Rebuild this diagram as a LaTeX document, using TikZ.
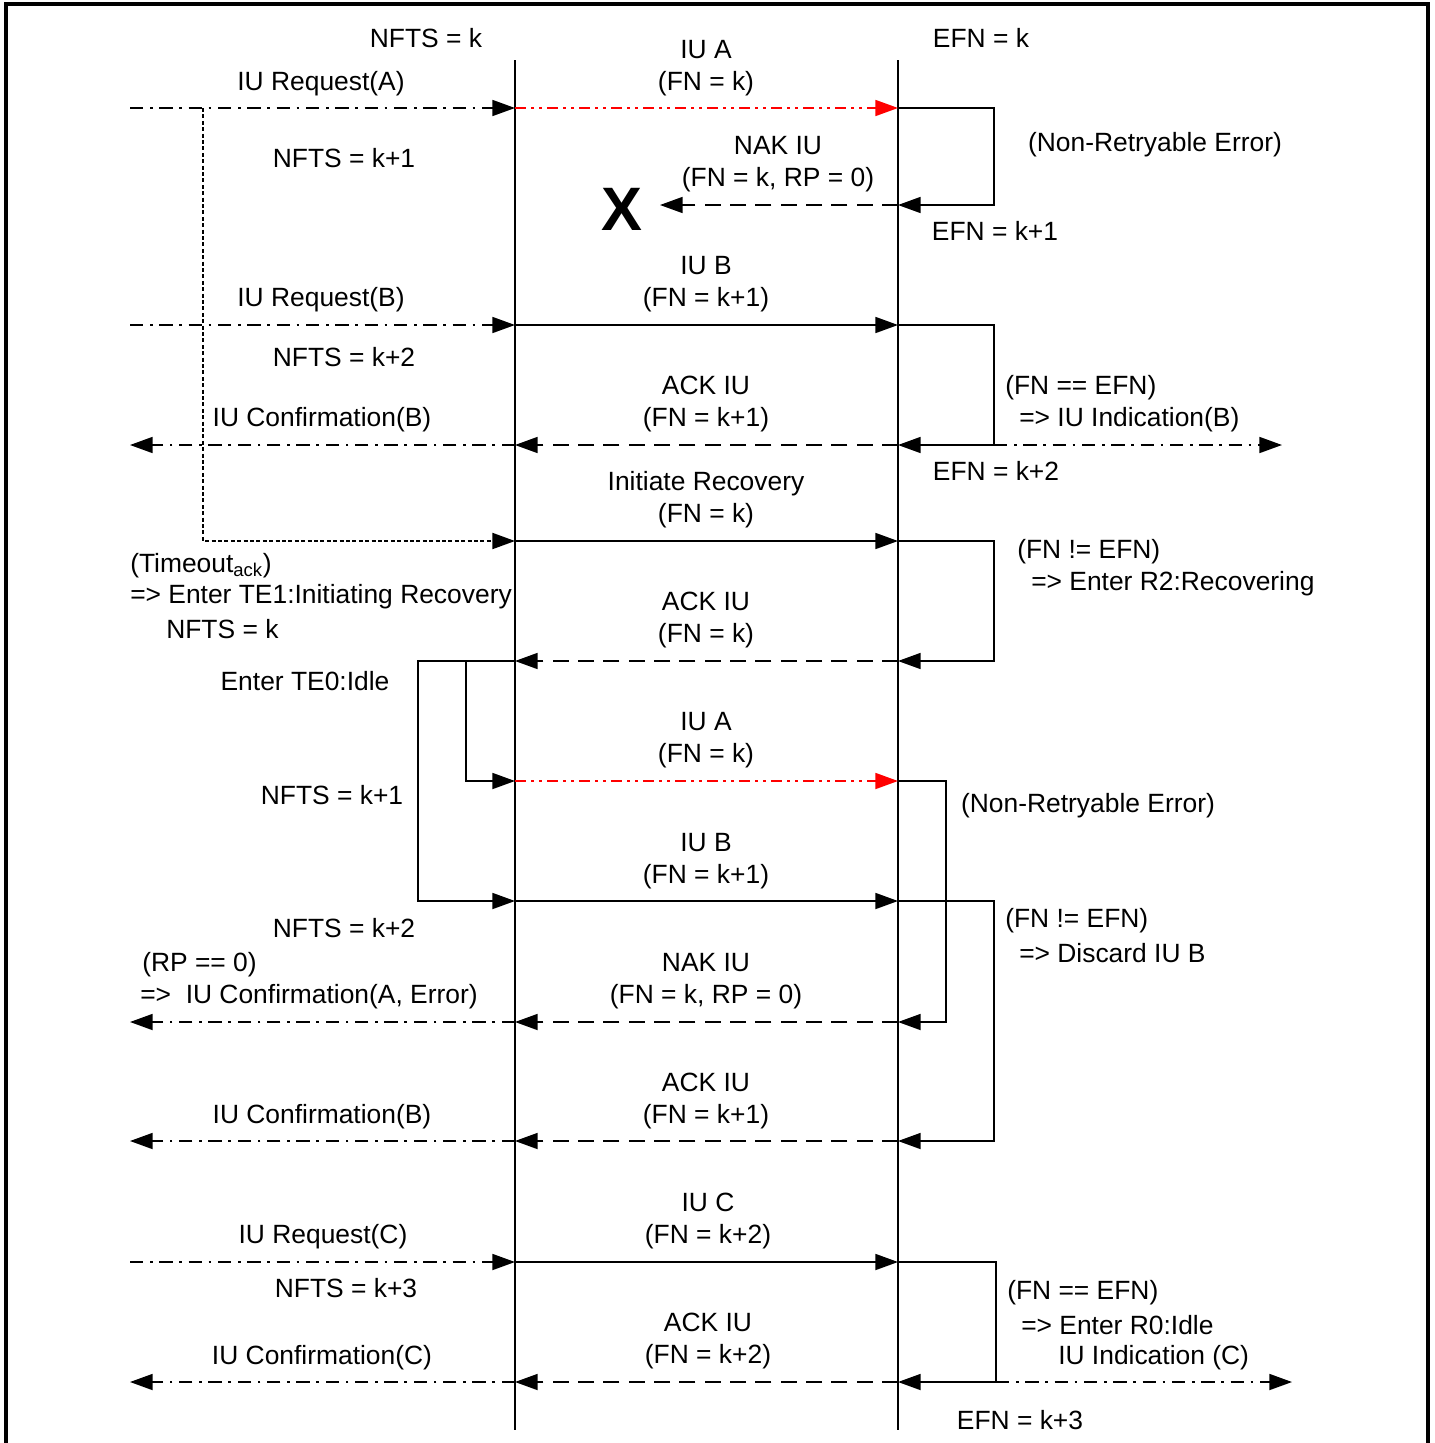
\documentclass[tikz,border=0pt]{standalone}
\usepackage{fontspec}
\setmainfont{Liberation Sans}
\usetikzlibrary{arrows.meta}
\begin{document}
\begin{tikzpicture}[x=0.75pt,y=-0.75pt,
  every node/.style={inner sep=0pt,font=\fontsize{19.8pt}{24pt}\selectfont},
  lbl/.style={align=center,anchor=center},
  lbll/.style={align=left,anchor=west},
  base/.style={line width=1.3pt},
  tip/.style={-{Triangle[length=17pt,width=12pt]}},
  prim/.style={base,tip,dash pattern=on 10pt off 5pt on 2pt off 5pt},
  msg/.style={base,tip},
  nak/.style={base,tip,dash pattern=on 12pt off 7pt},
  errmsg/.style={base,red,-{Triangle[length=17pt,width=12pt,fill=red]},dash pattern=on 8pt off 4pt on 2pt off 4pt on 2pt off 4pt},
  timer/.style={line width=1.5pt,tip,dash pattern=on 3pt off 1.8pt},
  loopl/.style={base,tip},
  life/.style={base}]
\useasboundingbox (0,0) rectangle (1435,1443);
% frame
\draw[line width=2.3pt] (6,1443) -- (6,4) -- (1428,4) -- (1428,1443);
% lifelines
\coordinate (Lt) at (515,60); \coordinate (Lb) at (515,1430);
\coordinate (Rt) at (898,60); \coordinate (Rb) at (898,1430);
\draw[life] (Lt) -- (Lb);
\draw[life] (Rt) -- (Rb);
% coordinates
\foreach \n/\y in {1/108,1b/205,2/325,2b/445,3/541,3b/661,4/781,5/901,6/1022,7/1141,8/1262,9/1382}{
  \coordinate (s\n) at (130,\y);
  \coordinate (a\n) at (515,\y);
  \coordinate (b\n) at (898,\y);
}
% ---- IU A, first attempt
\draw[prim] (s1) -- (a1);
\draw[errmsg] (a1) -- (b1);
\coordinate (c1) at (994,108); \coordinate (c1b) at (994,205);
\draw[loopl] (b1) -- (c1) -- (c1b) -- (b1b);
\coordinate (xend) at (660,205);
\draw[nak] (b1b) -- (xend);
\node[font=\fontsize{46pt}{46pt}\selectfont\bfseries] (X) at (622,209) {X};
% timer
\coordinate (d1) at (203,108); \coordinate (d2) at (203,541);
\draw[timer] (d1) -- (d2) -- (a3);
% ---- IU B
\draw[prim] (s2) -- (a2);
\draw[msg] (a2) -- (b2);
\coordinate (c2) at (994,325); \coordinate (c2b) at (994,445);
\draw[loopl] (b2) -- (c2) -- (c2b) -- (b2b);
\draw[nak] (b2b) -- (a2b);
\draw[prim] (a2b) -- (s2b);
\coordinate (e2) at (1282,445);
\draw[prim] (c2b) -- (e2);
% ---- Initiate recovery
\draw[msg] (a3) -- (b3);
\coordinate (c3) at (994,541); \coordinate (c3b) at (994,661);
\draw[loopl] (b3) -- (c3) -- (c3b) -- (b3b);
\draw[nak] (b3b) -- (a3b);
% retransmissions
\coordinate (f1) at (418,661); \coordinate (f2) at (418,901);
\coordinate (g1) at (466,661); \coordinate (g2) at (466,781);
\draw[loopl] (a3b) -- (f1) -- (f2) -- (a5);
\draw[loopl] (g1) -- (g2) -- (a4);
% IU A again
\draw[errmsg] (a4) -- (b4);
\coordinate (c4) at (946,781); \coordinate (c4b) at (946,1022);
\draw[loopl] (b4) -- (c4) -- (c4b) -- (b6);
% IU B again
\draw[msg] (a5) -- (b5);
\coordinate (c5) at (994,901); \coordinate (c5b) at (994,1141);
\draw[loopl] (b5) -- (c5) -- (c5b) -- (b7);
% NAK
\draw[nak] (b6) -- (a6);
\draw[prim] (a6) -- (s6);
% ACK B
\draw[nak] (b7) -- (a7);
\draw[prim] (a7) -- (s7);
% IU C
\draw[prim] (s8) -- (a8);
\draw[msg] (a8) -- (b8);
\coordinate (c8) at (996,1262); \coordinate (c8b) at (996,1382);
\draw[loopl] (b8) -- (c8) -- (c8b) -- (b9);
\draw[nak] (b9) -- (a9);
\draw[prim] (a9) -- (s9);
\coordinate (e9) at (1292,1382);
\draw[prim] (c8b) -- (e9);
% ---- texts
\begin{scope}[yshift=-2.2pt]
\node[lbl] (t1) at (426,35) {NFTS = k};
\node[lbl] (t2) at (706,65) {IU A\\(FN = k)};
\node[lbl] (t3) at (981,35) {EFN = k};
\node[lbl] (t4) at (321,81) {IU Request(A)};
\node[lbl] (t5) at (344,155) {NFTS = k+1};
\node[lbl] (t6) at (1155,142) {(Non-Retryable Error)};
\node[lbl] (t7) at (778,161) {NAK IU\\(FN = k, RP = 0)};
\node[lbl] (t8) at (995,228) {EFN = k+1};
\node[lbl] (t9) at (706,281) {IU B\\(FN = k+1)};
\node[lbl] (t10) at (321,297) {IU Request(B)};
\node[lbl] (t11) at (344,354) {NFTS = k+2};
\node[lbl] (t12) at (706,401) {ACK IU\\(FN = k+1)};
\node[lbl] (t13) at (322,417) {IU Confirmation(B)};
\node[lbll] (t14) at (1005,385) {(FN == EFN)};
\node[lbll] (t15) at (1019,417) {=> IU Indication(B)};
\node[lbl] (t16) at (996,468) {EFN = k+2};
\node[lbl] (t17) at (706,497) {Initiate Recovery\\(FN = k)};
\node[lbll] (t18) at (130,563) {(Timeout\textsubscript{ack})};
\node[lbll] (t19) at (130,594) {=> Enter TE1:Initiating Recovery};
\node[lbll] (t20) at (166,626) {NFTS = k};
\node[lbll] (t21) at (1017,549) {(FN != EFN)};
\node[lbll] (t22) at (1031,581) {=> Enter R2:Recovering};
\node[lbl] (t23) at (706,617) {ACK IU\\(FN = k)};
\node[lbl] (t24) at (305,678) {Enter TE0:Idle};
\node[lbl] (t25) at (706,737) {IU A\\(FN = k)};
\node[lbl] (t26) at (332,792) {NFTS = k+1};
\node[lbl] (t27) at (1088,803) {(Non-Retryable Error)};
\node[lbl] (t28) at (706,858) {IU B\\(FN = k+1)};
\node[lbl] (t29) at (344,925) {NFTS = k+2};
\node[lbll] (t30) at (1005,918) {(FN != EFN)};
\node[lbll] (t31) at (1019,950) {=> Discard IU B};
\node[lbll] (t32) at (142,962) {(RP == 0)};
\node[lbll] (t33) at (140,994) {=>\ \ IU Confirmation(A, Error)};
\node[lbl] (t34) at (706,978) {NAK IU\\(FN = k, RP = 0)};
\node[lbl] (t35) at (706,1098) {ACK IU\\(FN = k+1)};
\node[lbl] (t36) at (322,1114) {IU Confirmation(B)};
\node[lbl] (t37) at (708,1218) {IU C\\(FN = k+2)};
\node[lbl] (t38) at (323,1234) {IU Request(C)};
\node[lbl] (t39) at (346,1285) {NFTS = k+3};
\node[lbll] (t40) at (1007,1290) {(FN == EFN)};
\node[lbll] (t41) at (1021,1322) {=> Enter R0:Idle};
\node[lbll] (t42) at (1058,1355) {IU Indication (C)};
\node[lbl] (t43) at (708,1338) {ACK IU\\(FN = k+2)};
\node[lbl] (t44) at (322,1355) {IU Confirmation(C)};
\node[lbl] (t45) at (1020,1417) {EFN = k+3};
\end{scope}
\end{tikzpicture}
\end{document}
